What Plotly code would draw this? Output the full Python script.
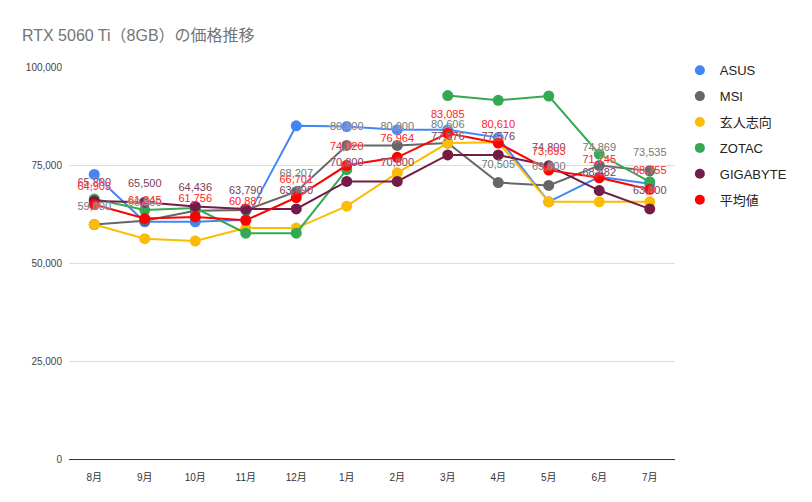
import plotly.graph_objects as go

months = ["8月", "9月", "10月", "11月", "12月", "1月", "2月", "3月", "4月", "5月", "6月", "7月"]

asus = [72600, 60500, 60500, 61000, 85000, 84800, 84000, 84000, 82000, 65600, 72000, 70200]
msi = [59800, 60800, 63300, 63500, 68207, 80000, 80000, 80606, 70505, 69800, 74869, 73535]
kuroto = [59800, 56200, 55600, 58900, 58900, 64500, 73000, 80600, 80800, 65600, 65600, 65600]
zotac = [66300, 63500, 64000, 57600, 57600, 73800, None, 92700, 91500, 92600, 77800, 70700]
gigabyte = [65800, 65500, 64436, 63790, 63790, 70800, 70800, 77576, 77576, 74800, 68482, 63800]
average = [64903, 61345, 61756, 60887, 66701, 74920, 76964, 83085, 80610, 73693, 71745, 68755]

# which points carry a visible data label in the reference
msi_label_shown = [1, 1, 0, 0, 1, 1, 1, 1, 1, 1, 1, 1]

series = [
    ("ASUS", asus, "#4285f4"),
    ("MSI", msi, "#666666"),
    ("玄人志向", kuroto, "#fbbc04"),
    ("ZOTAC", zotac, "#34a853"),
    ("GIGABYTE", gigabyte, "#741b47"),
    ("平均値", average, "#ff0000"),
]

FONT = "Liberation Sans, Arial, Noto Sans CJK JP, sans-serif"

fig = go.Figure()
for i, (name, vals, color) in enumerate(series):
    fig.add_trace(go.Scatter(
        x=months, y=vals, mode="lines+markers", name=name,
        line=dict(color=color, width=2),
        marker=dict(color=color, size=11),
        showlegend=False, connectgaps=False, hoverinfo="skip",
    ))
    # legend-only entry showing just a dot
    fig.add_trace(go.Scatter(
        x=[months[0]], y=[None], mode="markers", name=name,
        marker=dict(color=color, size=10), legendgroup=f"g{i}",
        showlegend=True,
    ))


def fmt(v):
    return f"{v:,}"


label_sets = [
    (msi, ["" if not s else fmt(v) for v, s in zip(msi, msi_label_shown)], "#777777"),
    (gigabyte, [fmt(v) for v in gigabyte], "#7d3a5c"),
    (average, [fmt(v) for v in average], "#ff2222"),
]
for vals, texts, color in label_sets:
    fig.add_trace(go.Scatter(
        x=months, y=vals, mode="markers+text", text=texts,
        textposition="top center",
        marker=dict(size=18, opacity=0),
        textfont=dict(color=color, size=11, family=FONT,
                      shadow="0px 0px 2px white"),
        showlegend=False, hoverinfo="skip",
    ))

fig.update_layout(
    width=812, height=502,
    margin=dict(l=69, r=137, t=67, b=43),
    paper_bgcolor="white", plot_bgcolor="white",
    font=dict(family=FONT),
    title=dict(text="RTX 5060 Ti（8GB）の価格推移", x=0.027, xref="container", xanchor="left",
               y=0.93, yref="container", yanchor="middle",
               font=dict(size=16, color="#757575", family=FONT)),
    legend=dict(x=1.008, xanchor="left", y=1.03, yanchor="top",
                font=dict(size=13, color="#222222", family=FONT),
                tracegroupgap=6, traceorder="grouped", itemwidth=30,
                bgcolor="rgba(0,0,0,0)"),
    showlegend=True,
)
fig.update_xaxes(
    type="category", categoryorder="array", categoryarray=months,
    range=[-0.5, 11.5], showgrid=False, showline=False, zeroline=False,
    tickfont=dict(size=10, color="#333333", family=FONT), ticks="",
    ticklabelstandoff=11,
)
fig.update_yaxes(
    range=[0, 100000], tickvals=[0, 25000, 50000, 75000, 100000],
    tickformat=",", showgrid=True, gridcolor="#dddddd", gridwidth=1,
    zeroline=True, zerolinecolor="#333333", zerolinewidth=1,
    tickfont=dict(size=10, color="#444444", family=FONT), ticks="",
    showline=False, ticklabelstandoff=6,
)

fig.write_html("out.html")
